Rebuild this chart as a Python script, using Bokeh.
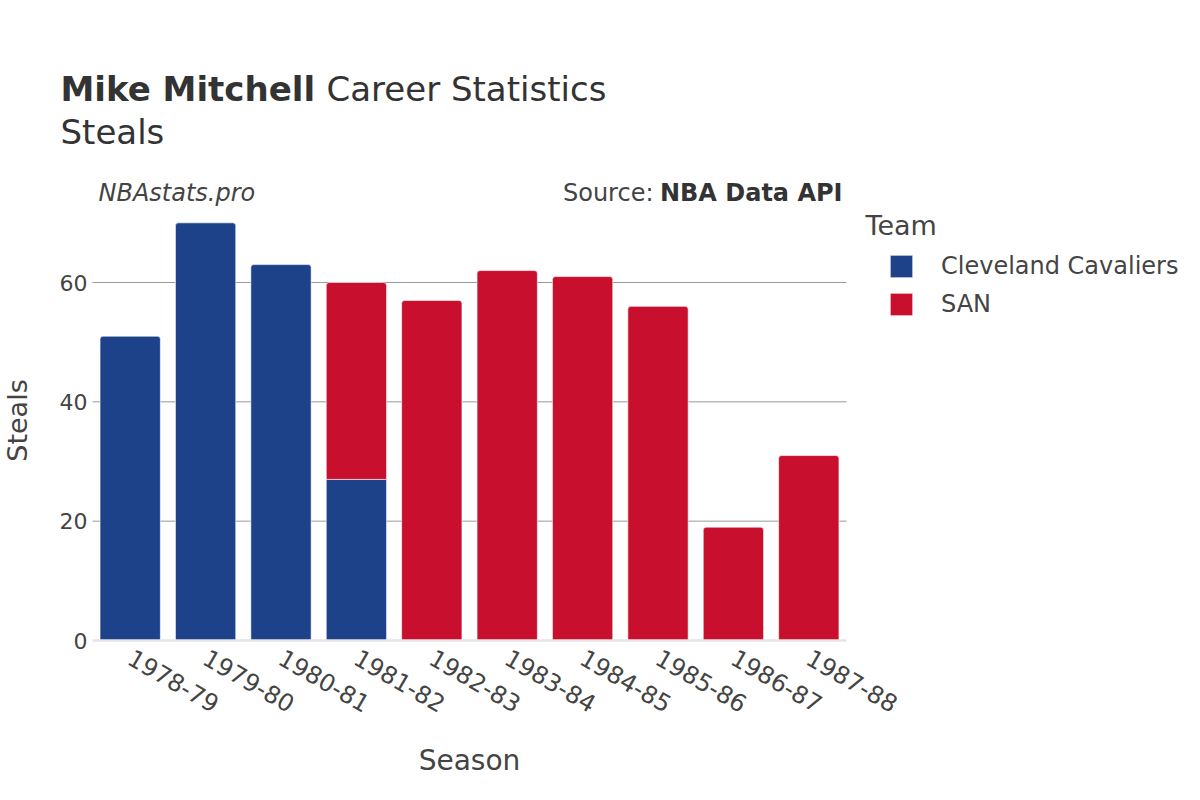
from bokeh.plotting import figure
from bokeh.models import Label, Legend, LegendItem, Range1d, FixedTicker
from bokeh.embed import file_html
from bokeh.resources import INLINE

seasons = ["1978-79", "1979-80", "1980-81", "1981-82", "1982-83",
           "1983-84", "1984-85", "1985-86", "1986-87", "1987-88"]
cle = [51, 70, 63, 27, 0, 0, 0, 0, 0, 0]
san = [0, 0, 0, 33, 57, 62, 61, 56, 19, 31]
teams = ["Cleveland Cavaliers", "SAN"]
colors = ["#1d428a", "#c8102e"]
yticks = [0, 20, 40, 60]
grid_ticks = [20, 40, 60]

FONT = "DejaVu Sans"
W, H = 1200, 800
# plot-area placement in pixels (layout, not data)
PX0, PX1 = 92, 846        # left / right edges of plot area
PY0, PY60 = 640, 282      # pixel of y=0 and y=60

n = len(seasons)
xs = list(range(n))
ppu_x = (PX1 - PX0) / n
x_start = -0.5 - PX0 / ppu_x
x_end = x_start + W / ppu_x
ppu_y = (PY0 - PY60) / 60.0
y_start = -(H - PY0) / ppu_y
y_end = PY0 / ppu_y

p = figure(width=W, height=H, x_range=Range1d(x_start, x_end), y_range=Range1d(y_start, y_end),
           output_backend="svg", toolbar_location=None,
           min_border_left=0, min_border_right=0, min_border_top=0, min_border_bottom=0)
p.outline_line_color = None
p.background_fill_color = "white"
p.xgrid.visible = False
p.ygrid.visible = False

# grid lines across the plot area
p.segment(x0=[-0.5] * len(grid_ticks), x1=[n - 0.5] * len(grid_ticks), y0=grid_ticks, y1=grid_ticks,
          line_color="#999999", line_width=1)

# bars
cle_solo = [i for i in xs if cle[i] > 0 and san[i] == 0]
cle_stack = [i for i in xs if cle[i] > 0 and san[i] > 0]
san_idx = [i for i in xs if san[i] > 0]
r_cle = p.vbar(x=cle_solo, bottom=0, top=[cle[i] for i in cle_solo], width=0.8,
               fill_color=colors[0], line_color="white", line_width=0.6, border_radius=(3, 3, 0, 0))
p.vbar(x=cle_stack, bottom=0, top=[cle[i] for i in cle_stack], width=0.8,
       fill_color=colors[0], line_color="white", line_width=0.6)
r_san = p.vbar(x=san_idx, bottom=[cle[i] for i in san_idx], top=[cle[i] + san[i] for i in san_idx],
               width=0.8, fill_color=colors[1], line_color="white", line_width=0.6, border_radius=(3, 3, 0, 0))

# zero line
p.segment(x0=[-0.5], x1=[n - 0.5], y0=[0], y1=[0], line_color="#e5e5e5", line_width=2.5)

# axes drawn at fixed data locations
p.xaxis.fixed_location = 0
p.yaxis.fixed_location = -0.5
p.xaxis.ticker = FixedTicker(ticks=xs)
p.xaxis.major_label_overrides = {i: s for i, s in zip(xs, seasons)}
p.yaxis.ticker = FixedTicker(ticks=yticks)
for ax in (p.xaxis, p.yaxis):
    ax.axis_line_color = None
    ax.major_tick_line_color = None
    ax.minor_tick_line_color = None
    ax.major_tick_out = 0
    ax.major_tick_in = 0
    ax.major_label_text_font = FONT
    ax.major_label_text_color = "#444444"
    ax.major_label_text_font_style = "normal"
p.yaxis.major_label_text_font_size = "22px"
p.xaxis.major_label_text_font_size = "24px"
p.yaxis.major_label_standoff = 5
p.xaxis.major_label_standoff = 15
p.xaxis.major_label_orientation = -0.5236


def lab(text, x, y, size, style="normal", align="left", color="#444444", angle=0, baseline="alphabetic"):
    p.add_layout(Label(x=x, y=H - y, x_units="screen", y_units="screen", text=text,
                       text_font=FONT, text_font_size=size, text_font_style=style,
                       text_color=color, text_align=align, text_baseline=baseline, angle=angle))


lab("Mike Mitchell", 60, 88, "34px", "bold", color="#333333")
lab("Career Statistics", 326, 88, "34px", color="#333333")
lab("Steals", 60, 131, "34px", color="#333333")
lab("NBAstats.pro", 98, 192, "24px", "italic")
lab("NBA Data API", 842, 192, "24px", "bold", align="right", color="#333333")
lab("Source:", 653, 192, "24px", align="right")
lab("Season", 469, 760, "28px", align="center")
lab("Steals", 17, 420, "27px", align="center", angle=1.5708, baseline="middle")
lab("Team", 865, 225, "27px")

legend = Legend(items=[LegendItem(label=teams[0], renderers=[r_cle]),
                       LegendItem(label=teams[1], renderers=[r_san])],
                location=(887, H - 318),
                label_text_font=FONT, label_text_font_size="24px", label_text_color="#444444",
                glyph_width=28, glyph_height=28, label_height=22, spacing=10, label_standoff=26,
                border_line_color=None, background_fill_alpha=0, padding=0, margin=0)
p.add_layout(legend, "center")

open("out.html", "w").write(file_html(p, INLINE))
